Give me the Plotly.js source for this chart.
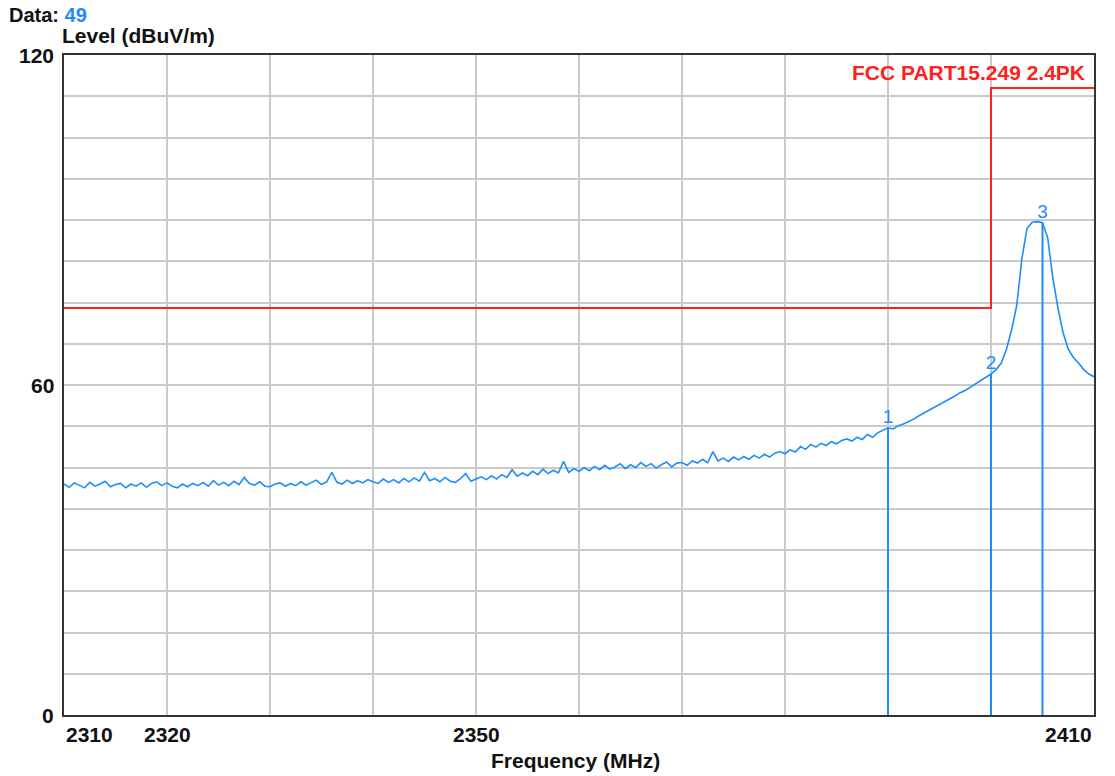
<!DOCTYPE html>
<html>
<head>
<meta charset="utf-8">
<script src="https://cdn.plot.ly/plotly-3.0.1.min.js"></script>
<style>html,body{margin:0;padding:0;background:#fff;}#chart{width:1115px;height:776px;}</style>
</head>
<body>
<div id="chart"></div>
<script>
// Sweep: start frequency and step (MHz)
const sweepStart = 2310;
const sweepStep = 0.5;
// Measured level (dBuV/m), one value per sweep point 2310.0 ... 2410.0
const levels = [
  42.0, 41.4, 42.2, 41.7, 41.3, 42.3, 41.6, 42.0, 42.5, 41.5,
  41.9, 42.1, 41.3, 42.0, 41.6, 42.2, 41.4, 42.1, 42.4, 41.7,
  42.2, 41.6, 41.3, 42.0, 41.5, 42.1, 41.7, 42.3, 41.6, 42.6,
  41.8, 42.3, 41.7, 42.5, 41.9, 43.2, 42.1, 41.8, 42.4, 41.6,
  41.5, 42.0, 42.2, 41.6, 42.1, 41.7, 42.4, 41.8, 42.3, 42.7,
  41.9, 42.4, 44.1, 42.3, 42.0, 42.7, 42.1, 42.6, 42.2, 42.8,
  42.4, 42.1, 42.9, 42.3, 42.8, 42.2, 43.0, 42.4, 43.1, 42.5,
  44.1, 42.6, 43.0, 42.4, 43.2, 42.5, 42.3, 43.0, 43.9, 42.5,
  42.9, 43.3, 42.8, 43.5, 42.9, 43.7, 43.2, 44.6, 43.4, 44.0,
  43.5, 44.3, 43.7, 44.7, 43.9, 44.5, 44.0, 46.1, 44.1, 44.8,
  44.3, 45.0, 44.4, 45.2, 44.6, 45.4, 44.7, 45.1, 45.7, 44.8,
  45.5, 45.0, 45.9, 45.2, 45.7, 44.9, 45.5, 46.0, 45.1, 45.8,
  45.9, 45.4, 46.2, 45.8, 46.5, 45.9, 47.9, 46.2, 46.7, 46.1,
  46.9, 46.4, 47.0, 46.5, 47.2, 46.7, 47.4, 46.9, 47.6, 47.9,
  47.5, 48.2, 47.8, 48.8, 48.3, 49.2, 48.7, 49.4, 49.0, 49.7,
  49.3, 49.9, 50.2, 49.8, 50.5, 50.1, 51.0, 50.5, 51.3, 51.8,
  52.2, 52.0, 52.6, 52.9, 53.3, 53.8, 54.4, 54.9, 55.5, 56.0,
  56.4, 56.9, 57.5, 58.0, 58.6, 59.0, 59.6, 60.2, 60.8, 61.4,
  62.0, 62.8, 64.0, 66.5, 70.0, 74.5, 83.0, 88.5, 89.6, 89.7,
  89.5, 86.8, 79.5, 74.0, 69.5, 66.5, 65.0, 64.0, 62.8, 62.0,
  61.5
];
// Limit line: FCC PART15.249 2.4PK
const limitFreqs = [2310, 2400, 2410];
const limitLevels = [74, 114, 114];
const limitName = "FCC PART15.249 2.4PK";
// Markers
const markerLabels = ["1", "2", "3"];
const markerFreqs = [2390, 2400, 2405];
const markerLevels = [52.2, 62.0, 89.5];
// Axis tick labels
const xTickVals = [2310, 2320, 2350, 2410];
const yTickVals = [0, 60, 120];
const dataCount = 49;

const freqs = levels.map((_, i) => sweepStart + i * sweepStep);
const blue = '#1e8cff';
const red = '#ff2020';
const fontFam = '"Liberation Sans", Arial, Helvetica, sans-serif';

const traces = [];
traces.push({x: freqs, y: levels, type: 'scatter', mode: 'lines',
  line: {color: blue, width: 1.6}, hoverinfo: 'x+y', showlegend: false});
traces.push({x: limitFreqs, y: limitLevels, type: 'scatter', mode: 'lines',
  line: {color: red, width: 2, shape: 'hv'}, showlegend: false});
markerFreqs.forEach((f, i) => {
  traces.push({x: [f, f], y: [0, markerLevels[i]], type: 'scatter', mode: 'lines',
    line: {color: blue, width: 2}, showlegend: false, hoverinfo: 'skip'});
});
traces.push({x: markerFreqs, y: markerLevels, type: 'scatter', mode: 'text',
  text: markerLabels, textposition: 'top center',
  textfont: {family: fontFam, size: 19, color: blue}, showlegend: false, hoverinfo: 'skip'});

const L = 64, R = 1094, T = 55, B = 715;
const px = v => (v - L) / (R - L);
const py = v => (B - v) / (B - T);

const annotations = [];
annotations.push({xref: 'paper', yref: 'paper', x: px(7), y: py(15), xanchor: 'left', yanchor: 'middle',
  text: '<b>Data: <span style="color:' + blue + '">' + dataCount + '</span></b>', showarrow: false,
  font: {family: fontFam, size: 20, color: '#111'}});
annotations.push({xref: 'paper', yref: 'paper', x: px(60), y: py(36), xanchor: 'left', yanchor: 'middle',
  text: '<b>Level (dBuV/m)</b>', showarrow: false, font: {family: fontFam, size: 21, color: '#111'}});
annotations.push({xref: 'paper', yref: 'paper', x: px(575), y: py(760), xanchor: 'center', yanchor: 'middle',
  text: '<b>Frequency (MHz)</b>', showarrow: false, font: {family: fontFam, size: 21, color: '#111'}});
annotations.push({xref: 'paper', yref: 'paper', x: px(1087), y: py(73), xanchor: 'right', yanchor: 'middle',
  text: '<b>' + limitName + '</b>', showarrow: false, font: {family: fontFam, size: 21, color: red}});
yTickVals.forEach(v => {
  annotations.push({xref: 'paper', yref: 'y', x: px(56), y: v, xanchor: 'right', yanchor: 'middle',
    text: '<b>' + v + '</b>', showarrow: false, font: {family: fontFam, size: 21, color: '#111'}});
});
xTickVals.forEach((v, i) => {
  const anchor = i === 0 ? 'left' : (i === xTickVals.length - 1 ? 'right' : 'center');
  annotations.push({xref: 'x', yref: 'paper', x: v, y: py(734), xanchor: anchor, yanchor: 'middle',
    text: '<b>' + v + '</b>', showarrow: false, font: {family: fontFam, size: 21, color: '#111'}});
});

const layout = {
  width: 1115, height: 776,
  margin: {l: L, r: 1115 - R, t: T, b: 776 - B, pad: 0},
  paper_bgcolor: '#fff', plot_bgcolor: '#fff',
  showlegend: false,
  xaxis: {range: [2310, 2410], dtick: 10, tick0: 2310, showticklabels: false, ticks: '',
    showgrid: true, gridcolor: '#cacaca', gridwidth: 2, zeroline: false,
    showline: true, linecolor: '#333', linewidth: 2, mirror: true, fixedrange: true},
  yaxis: {range: [0, 120], dtick: 7.5, tick0: 0, showticklabels: false, ticks: '',
    showgrid: true, gridcolor: '#cacaca', gridwidth: 2, zeroline: false,
    showline: true, linecolor: '#333', linewidth: 2, mirror: true, fixedrange: true},
  annotations: annotations
};

Plotly.newPlot('chart', traces, layout, {displayModeBar: false, staticPlot: true});
</script>
</body>
</html>
